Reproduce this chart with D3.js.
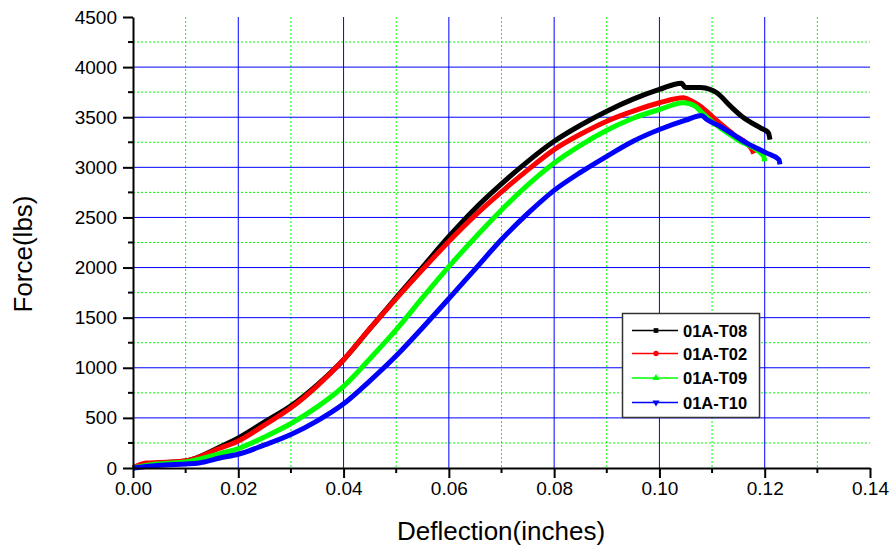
<!DOCTYPE html>
<html lang="en">
<head>
  <meta charset="UTF-8">
  <script src="https://cdn.jsdelivr.net/npm/d3@7"></script>
  <title>Force vs Deflection</title>
  <style>
    body { margin: 0; background: #fff; }
    text { font-family: "Liberation Sans", Arial, sans-serif; }
  </style>
</head>
<body>
  <svg width="894" height="555" id="chart"></svg>
  <script>
  // deflection (inches), force (lbs)
  let t08X = [0, 0.002, 0.005, 0.01, 0.0165, 0.02, 0.025, 0.03, 0.035, 0.04, 0.045, 0.05, 0.055, 0.06, 0.065, 0.07, 0.075, 0.08, 0.085, 0.09, 0.095, 0.1, 0.1042, 0.1049, 0.1078, 0.1097, 0.1109, 0.1135, 0.116, 0.1192, 0.1207, 0.1210]
  let t08Y = [0, 30, 50, 70, 210, 300, 460, 620, 830, 1080, 1390, 1700, 2005, 2310, 2590, 2835, 3060, 3260, 3420, 3560, 3680, 3777, 3840, 3797, 3797, 3777, 3744, 3610, 3494, 3394, 3344, 3277]

  let t02X = [0, 0.0025, 0.005, 0.01, 0.0165, 0.02, 0.025, 0.03, 0.035, 0.04, 0.045, 0.05, 0.055, 0.06, 0.065, 0.07, 0.075, 0.08, 0.085, 0.09, 0.095, 0.1, 0.1046, 0.1062, 0.1078, 0.1103, 0.1141, 0.1176, 0.1179]
  let t02Y = [0, 50, 55, 70, 197, 270, 430, 600, 820, 1080, 1390, 1690, 1980, 2260, 2520, 2755, 2975, 3177, 3330, 3460, 3560, 3644, 3694, 3660, 3610, 3494, 3327, 3177, 3137]

  let t09X = [0, 0.003, 0.006, 0.01, 0.0165, 0.02, 0.025, 0.03, 0.035, 0.04, 0.045, 0.05, 0.055, 0.06, 0.065, 0.07, 0.075, 0.08, 0.085, 0.09, 0.095, 0.1, 0.1046, 0.1068, 0.1078, 0.1103, 0.1148, 0.1198, 0.1200]
  let t09Y = [0, 30, 45, 60, 144, 194, 310, 444, 610, 815, 1090, 1380, 1700, 2010, 2300, 2575, 2825, 3044, 3220, 3370, 3490, 3577, 3644, 3610, 3560, 3444, 3277, 3110, 3060]

  let t10X = [0, 0.003, 0.006, 0.01, 0.0125, 0.0165, 0.02, 0.025, 0.03, 0.035, 0.04, 0.045, 0.05, 0.055, 0.06, 0.065, 0.07, 0.075, 0.08, 0.085, 0.09, 0.095, 0.1, 0.105, 0.108, 0.109, 0.1115, 0.1165, 0.1203, 0.1227, 0.1229]
  let t10Y = [0, 17, 30, 40, 50, 100, 137, 230, 334, 470, 640, 870, 1120, 1400, 1690, 1985, 2280, 2540, 2770, 2950, 3110, 3260, 3377, 3470, 3517, 3477, 3410, 3244, 3144, 3077, 3030]

  let seriesNames = ["01A-T08", "01A-T02", "01A-T09", "01A-T10"]
  let seriesColors = ["#000000", "#ff0000", "#00ff00", "#0000ff"]
  let seriesMarkers = [d3.symbolSquare, d3.symbolCircle, d3.symbolTriangle, d3.symbolTriangle]

  let xMajor = [0, 0.02, 0.04, 0.06, 0.08, 0.10, 0.12, 0.14]
  let yMajor = [0, 500, 1000, 1500, 2000, 2500, 3000, 3500, 4000, 4500]

  let allSeries = [[t08X, t08Y], [t02X, t02Y], [t09X, t09Y], [t10X, t10Y]]
    .map((s, i) => ({ name: seriesNames[i], color: seriesColors[i], marker: seriesMarkers[i],
      points: s[0].map((x, j) => ({ x: x, y: s[1][j] })) }))

  let svg = d3.select("#chart")
  let plotLeft = 133, plotRight = 870, plotTop = 17, plotBottom = 468

  /* SCALES */
  let scaleX = d3.scaleLinear().domain([0, 0.14]).range([plotLeft, plotRight])
  let scaleY = d3.scaleLinear().domain([0, 4500]).range([plotBottom, plotTop])

  let xMinor = d3.range(0.01, 0.14, 0.02)
  let yMinor = d3.range(250, 4500, 500)

  /* GRID */
  let grid = svg.append("g")
  grid.selectAll(".gxm").data(xMinor).enter().append("line")
    .attr("x1", d => scaleX(d)).attr("x2", d => scaleX(d))
    .attr("y1", plotTop).attr("y2", plotBottom)
    .attr("stroke", "#00ff00").attr("stroke-width", 1).attr("stroke-dasharray", "2,2")
  grid.selectAll(".gym").data(yMinor).enter().append("line")
    .attr("x1", plotLeft).attr("x2", plotRight)
    .attr("y1", d => scaleY(d)).attr("y2", d => scaleY(d))
    .attr("stroke", "#00ff00").attr("stroke-width", 1).attr("stroke-dasharray", "2,2")
  grid.selectAll(".gx").data(xMajor.filter(d => d > 0 && d < 0.14)).enter().append("line")
    .attr("x1", d => scaleX(d)).attr("x2", d => scaleX(d))
    .attr("y1", plotTop).attr("y2", plotBottom)
    .attr("stroke", "#0000ff").attr("stroke-width", 1)
  grid.selectAll(".gy").data(yMajor.filter(d => d > 0 && d < 4500)).enter().append("line")
    .attr("x1", plotLeft).attr("x2", plotRight)
    .attr("y1", d => scaleY(d)).attr("y2", d => scaleY(d))
    .attr("stroke", "#0000ff").attr("stroke-width", 1)

  /* CURVES */
  let line = d3.line().x(d => scaleX(d.x)).y(d => scaleY(d.y)).curve(d3.curveMonotoneX)
  svg.append("g").selectAll("path").data(allSeries).enter().append("path")
    .attr("d", d => line(d.points))
    .attr("fill", "none")
    .attr("stroke", d => d.color)
    .attr("stroke-width", 5)
    .attr("stroke-linejoin", "round")

  /* AXES */
  let axisX = d3.axisBottom(scaleX).tickValues(xMajor).tickFormat(d3.format(".2f")).tickSize(10).tickSizeOuter(0)
  let axisY = d3.axisLeft(scaleY).tickValues(yMajor).tickFormat(d3.format("d")).tickSize(10).tickSizeOuter(0)

  let gx = svg.append("g").attr("transform", "translate(0," + plotBottom + ")").call(axisX)
  let gy = svg.append("g").attr("transform", "translate(" + plotLeft + ",0)").call(axisY)

  // minor ticks
  gx.selectAll(".minor").data(xMinor).enter().append("line")
    .attr("x1", d => scaleX(d)).attr("x2", d => scaleX(d)).attr("y1", 0).attr("y2", 5)
    .attr("stroke", "#000").attr("stroke-width", 2)
  gy.selectAll(".minor").data(yMinor).enter().append("line")
    .attr("y1", d => scaleY(d)).attr("y2", d => scaleY(d)).attr("x1", 0).attr("x2", -5)
    .attr("stroke", "#000").attr("stroke-width", 2)

  ;[gx, gy].forEach(g => {
    g.select(".domain").attr("stroke", "#000").attr("stroke-width", 2)
    g.selectAll(".tick line").attr("stroke", "#000").attr("stroke-width", 2)
    g.selectAll(".tick text").attr("fill", "#000").style("font-size", "19px")
      .style("font-family", "'Liberation Sans', Arial, sans-serif")
  })
  gx.selectAll(".tick text").attr("y", 14)
  gy.selectAll(".tick text").attr("x", -16)

  /* TITLES */
  svg.append("text").text("Deflection(inches)")
    .attr("x", 501).attr("y", 540).attr("text-anchor", "middle")
    .style("font-size", "26px")
  svg.append("text").text("Force(lbs)")
    .attr("transform", "translate(32,254) rotate(-90)").attr("text-anchor", "middle")
    .style("font-size", "26px")

  /* LEGEND */
  let legend = svg.append("g")
  legend.append("rect").attr("x", 622.5).attr("y", 313.5).attr("width", 137).attr("height", 104)
    .attr("fill", "#fff").attr("stroke", "#333").attr("stroke-width", 1.5)
  let rows = legend.selectAll(".row").data(allSeries).enter().append("g")
    .attr("transform", (d, i) => "translate(0," + [330.5, 353.5, 378, 402.5][i] + ")")
  rows.append("line").attr("x1", 632).attr("x2", 678).attr("y1", 0).attr("y2", 0)
    .attr("stroke", d => d.color).attr("stroke-width", 1.5)
  rows.append("path")
    .attr("d", d => d3.symbol().type(d.marker).size(22)())
    .attr("transform", (d, i) => "translate(656,0)" + (i === 3 ? " rotate(180)" : ""))
    .attr("fill", d => d.color)
  rows.append("text").text(d => d.name)
    .attr("x", 683).attr("y", 6)
    .style("font-size", "16.5px").style("font-weight", "bold")
  </script>
</body>
</html>
